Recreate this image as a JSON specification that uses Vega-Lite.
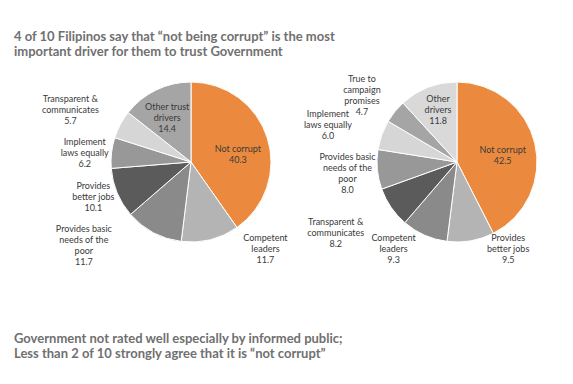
{
  "$schema": "https://vega.github.io/schema/vega-lite/v6.json",
  "background": "white",
  "padding": {"left": 14, "top": 31, "right": 0, "bottom": 0},
  "bounds": "flush",
  "spacing": 0,
  "config": {
    "view": {"stroke": null},
    "text": {"font": "Lato", "fontSize": 9, "lineBreak": "\n", "lineHeight": 11, "color": "#3a3a3a"}
  },
  "title": {
    "text": ["4 of 10 Filipinos say that \u201cnot being corrupt\u201d is the most", "important driver for them to trust Government"],
    "anchor": "start", "orient": "top", "frame": "group", "offset": 3,
    "font": "Lato", "fontSize": 13, "fontWeight": 700, "color": "#707070", "lineHeight": 15
  },
  "datasets": {
    "left": [
      {"rank": 1, "category": "Not corrupt", "value": 40.3, "label": "Not corrupt\n40.3"},
      {"rank": 2, "category": "Competent leaders", "value": 11.7, "label": "Competent\nleaders\n11.7"},
      {"rank": 3, "category": "Provides basic needs of the poor", "value": 11.7, "label": "Provides basic\nneeds of the\npoor\n11.7"},
      {"rank": 4, "category": "Provides better jobs", "value": 10.1, "label": "Provides\nbetter jobs\n10.1"},
      {"rank": 5, "category": "Implement laws equally", "value": 6.2, "label": "Implement\nlaws equally\n6.2"},
      {"rank": 6, "category": "Transparent & communicates", "value": 5.7, "label": "Transparent &\ncommunicates\n5.7"},
      {"rank": 7, "category": "Other trust drivers", "value": 14.4, "label": "Other trust\ndrivers\n14.4"}
    ],
    "right": [
      {"rank": 1, "category": "Not corrupt", "value": 42.5, "label": "Not corrupt\n42.5"},
      {"rank": 2, "category": "Provides better jobs", "value": 9.5, "label": "Provides\nbetter jobs\n9.5"},
      {"rank": 3, "category": "Competent leaders", "value": 9.3, "label": "Competent\nleaders\n9.3"},
      {"rank": 4, "category": "Transparent & communicates", "value": 8.2, "label": "Transparent &\ncommunicates\n8.2"},
      {"rank": 5, "category": "Provides basic needs of the poor", "value": 8.0, "label": "Provides basic\nneeds of the\npoor\n8.0"},
      {"rank": 6, "category": "Implement laws equally", "value": 6.0, "label": "Implement\nlaws equally\n6.0"},
      {"rank": 7, "category": "True to campaign promises", "value": 4.7, "label": "True to\ncampaign\npromises\n4.7"},
      {"rank": 8, "category": "Other drivers", "value": 11.8, "label": "Other\ndrivers\n11.8"}
    ]
  },
  "hconcat": [
    {
      "width": 354, "height": 200,
      "title": {
        "text": ["Government not rated well especially by informed public;", "Less than 2 of 10 strongly agree that it is \u201cnot corrupt\u201d"],
        "orient": "bottom", "anchor": "start", "frame": "group", "offset": 66,
        "font": "Lato", "fontSize": 13, "fontWeight": 700, "color": "#707070", "lineHeight": 15
      },
      "data": {"name": "left"},
      "encoding": {
        "theta": {"field": "value", "type": "quantitative", "stack": true},
        "order": {"field": "rank", "type": "quantitative"}
      },
      "resolve": {"scale": {"radius": "independent"}},
      "layer": [
        {
          "mark": {"type": "arc", "outerRadius": 80, "stroke": "white", "strokeWidth": 1},
          "encoding": {
            "color": {"field": "rank", "type": "ordinal", "legend": null,
              "scale": {"domain": [1, 2, 3, 4, 5, 6, 7, 8], "range": ["#EB8A3E", "#B4B4B4", "#8A8A8A", "#5B5B5B", "#989898", "#D6D6D6", "#A5A5A5", "#D9D9D9"]}}
          }
        },
        {"mark": {"type": "text", "dx": 3, "dy": 1}, "encoding": {
          "radius": {"field": "value", "type": "quantitative", "scale": {"domain": [14.4, 40.3, 50], "range": [0, 46, 0], "clamp": true, "zero": false, "nice": false}},
          "text": {"condition": {"test": "datum.rank === 1", "field": "label"}, "value": ""}}},
        {"mark": {"type": "text", "dx": 48, "dy": -30}, "encoding": {
          "radius": {"field": "value", "type": "quantitative", "scale": {"domain": [10.1, 11.7, 14.4], "range": [0, 109, 0], "clamp": true, "zero": false, "nice": false}},
          "text": {"condition": {"test": "datum.rank === 2", "field": "label"}, "value": ""}}},
        {"mark": {"type": "text", "dx": -46, "dy": -48}, "encoding": {
          "radius": {"field": "value", "type": "quantitative", "scale": {"domain": [10.1, 11.7, 14.4], "range": [0, 130, 0], "clamp": true, "zero": false, "nice": false}},
          "text": {"condition": {"test": "datum.rank === 3", "field": "label"}, "value": ""}}},
        {"mark": {"type": "text", "dx": 1, "dy": -17}, "encoding": {
          "radius": {"field": "value", "type": "quantitative", "scale": {"domain": [6.2, 10.1, 11.7], "range": [0, 107, 0], "clamp": true, "zero": false, "nice": false}},
          "text": {"condition": {"test": "datum.rank === 4", "field": "label"}, "value": ""}}},
        {"mark": {"type": "text", "dx": -1, "dy": -8}, "encoding": {
          "radius": {"field": "value", "type": "quantitative", "scale": {"domain": [5.7, 6.2, 10.1], "range": [0, 106, 0], "clamp": true, "zero": false, "nice": false}},
          "text": {"condition": {"test": "datum.rank === 5", "field": "label"}, "value": ""}}},
        {"mark": {"type": "text", "dx": -4, "dy": -1}, "encoding": {
          "radius": {"field": "value", "type": "quantitative", "scale": {"domain": [0, 5.7, 6.2], "range": [0, 132, 0], "clamp": true, "zero": false, "nice": false}},
          "text": {"condition": {"test": "datum.rank === 6", "field": "label"}, "value": ""}}},
        {"mark": {"type": "text", "dx": -2, "dy": -10}, "encoding": {
          "radius": {"field": "value", "type": "quantitative", "scale": {"domain": [11.7, 14.4, 40.3], "range": [0, 50, 0], "clamp": true, "zero": false, "nice": false}},
          "text": {"condition": {"test": "datum.rank === 7", "field": "label"}, "value": ""}}}
      ]
    },
    {
      "width": 178, "height": 200,
      "data": {"name": "right"},
      "encoding": {
        "theta": {"field": "value", "type": "quantitative", "stack": true},
        "order": {"field": "rank", "type": "quantitative"}
      },
      "resolve": {"scale": {"radius": "independent"}},
      "layer": [
        {
          "mark": {"type": "arc", "outerRadius": 80, "stroke": "white", "strokeWidth": 1},
          "encoding": {
            "color": {"field": "rank", "type": "ordinal", "legend": null,
              "scale": {"domain": [1, 2, 3, 4, 5, 6, 7, 8], "range": ["#EB8A3E", "#B4B4B4", "#8A8A8A", "#5B5B5B", "#989898", "#D6D6D6", "#A5A5A5", "#D9D9D9"]}}
          }
        },
        {"mark": {"type": "text", "dx": 0, "dy": -1}, "encoding": {
          "radius": {"field": "value", "type": "quantitative", "scale": {"domain": [11.8, 42.5, 50], "range": [0, 47, 0], "clamp": true, "zero": false, "nice": false}},
          "text": {"condition": {"test": "datum.rank === 1", "field": "label"}, "value": ""}}},
        {"mark": {"type": "text", "dx": 34, "dy": -23}, "encoding": {
          "radius": {"field": "value", "type": "quantitative", "scale": {"domain": [9.3, 9.5, 11.8], "range": [0, 100, 0], "clamp": true, "zero": false, "nice": false}},
          "text": {"condition": {"test": "datum.rank === 2", "field": "label"}, "value": ""}}},
        {"mark": {"type": "text", "dx": -20, "dy": -22}, "encoding": {
          "radius": {"field": "value", "type": "quantitative", "scale": {"domain": [8.2, 9.3, 9.5], "range": [0, 107, 0], "clamp": true, "zero": false, "nice": false}},
          "text": {"condition": {"test": "datum.rank === 3", "field": "label"}, "value": ""}}},
        {"mark": {"type": "text", "dx": -6, "dy": -19}, "encoding": {
          "radius": {"field": "value", "type": "quantitative", "scale": {"domain": [8.0, 8.2, 9.3], "range": [0, 140, 0], "clamp": true, "zero": false, "nice": false}},
          "text": {"condition": {"test": "datum.rank === 4", "field": "label"}, "value": ""}}},
        {"mark": {"type": "text", "dx": 0, "dy": -15}, "encoding": {
          "radius": {"field": "value", "type": "quantitative", "scale": {"domain": [6.0, 8.0, 8.2], "range": [0, 110, 0], "clamp": true, "zero": false, "nice": false}},
          "text": {"condition": {"test": "datum.rank === 5", "field": "label"}, "value": ""}}},
        {"mark": {"type": "text", "dx": -3, "dy": -3}, "encoding": {
          "radius": {"field": "value", "type": "quantitative", "scale": {"domain": [4.7, 6.0, 8.0], "range": [0, 134, 0], "clamp": true, "zero": false, "nice": false}},
          "text": {"condition": {"test": "datum.rank === 6", "field": "label"}, "value": ""}}},
        {"mark": {"type": "text", "dx": -5, "dy": -10}, "encoding": {
          "radius": {"field": "value", "type": "quantitative", "scale": {"domain": [0, 4.7, 6.0], "range": [0, 116, 0], "clamp": true, "zero": false, "nice": false}},
          "text": {"condition": {"test": "datum.rank === 7", "field": "label"}, "value": ""}}},
        {"mark": {"type": "text", "dx": 1, "dy": -12}, "encoding": {
          "radius": {"field": "value", "type": "quantitative", "scale": {"domain": [9.5, 11.8, 42.5], "range": [0, 55, 0], "clamp": true, "zero": false, "nice": false}},
          "text": {"condition": {"test": "datum.rank === 8", "field": "label"}, "value": ""}}}
      ]
    }
  ]
}
